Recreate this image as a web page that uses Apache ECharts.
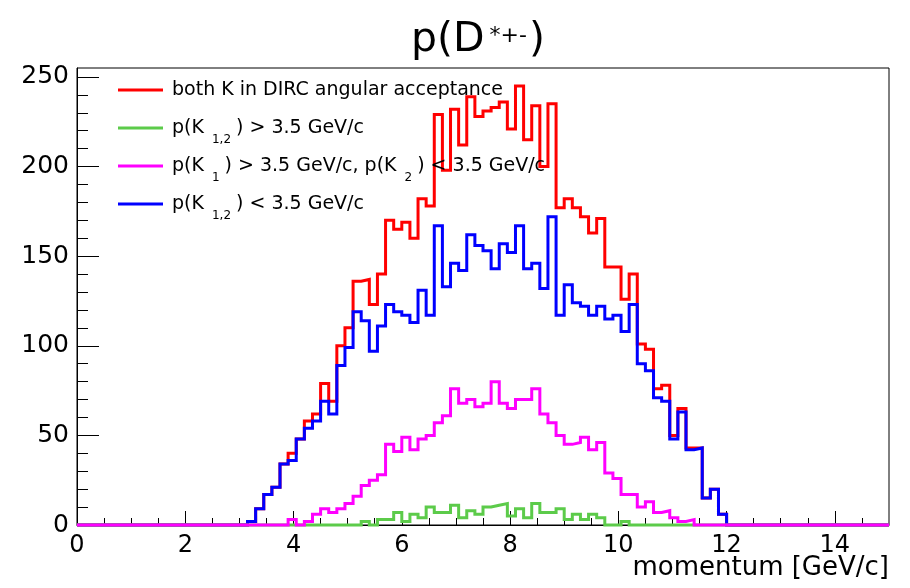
<!DOCTYPE html>
<html>
<head>
<meta charset="utf-8">
<script src="https://cdn.jsdelivr.net/npm/echarts@6/dist/echarts.min.js"></script>
<style>
  html, body { margin: 0; background: #fff; }
  #chart { width: 910px; height: 588px; }
</style>
</head>
<body>
<div id="chart"></div>
<script>
// histogram binning: 100 bins of 0.15 GeV/c from 0 to 15
const binWidth = 0.15
const xTicks = [0, 2, 4, 6, 8, 10, 12, 14]
const yTicks = [0, 50, 100, 150, 200, 250]

// counts per bin
const bothInAcceptance = [
  0, 0, 0, 0, 0, 0, 0, 0, 0, 0,
  0, 0, 0, 0, 0, 0, 0, 0, 0, 0,
  0, 2, 9, 17, 21, 34, 40, 48, 58, 62,
  79, 69, 100, 110, 136, 137, 123, 140, 170, 165,
  169, 160, 182, 178, 229, 198, 232, 212, 239, 228,
  231, 233, 236, 221, 245, 215, 234, 200, 235, 177,
  182, 177, 172, 163, 171, 144, 144, 126, 140, 101,
  98, 76, 78, 50, 65, 43, 43, 15, 20, 6,
  0, 0, 0, 0, 0, 0, 0, 0, 0, 0,
  0, 0, 0, 0, 0, 0, 0, 0, 0, 0
]
const bothAbove = [
  0, 0, 0, 0, 0, 0, 0, 0, 0, 0,
  0, 0, 0, 0, 0, 0, 0, 0, 0, 0,
  0, 0, 0, 0, 0, 0, 0, 0, 0, 0,
  0, 0, 0, 0, 0, 2, 0, 3, 3, 7,
  2, 6, 4, 10, 7, 7, 11, 4, 8, 6,
  10, 11, 12, 5, 9, 4, 12, 7, 7, 9,
  3, 6, 3, 6, 4, 0, 0, 2, 0, 0,
  0, 0, 0, 0, 0, 0, 0, 0, 0, 0,
  0, 0, 0, 0, 0, 0, 0, 0, 0, 0,
  0, 0, 0, 0, 0, 0, 0, 0, 0, 0
]
const oneAboveOneBelow = [
  0, 0, 0, 0, 0, 0, 0, 0, 0, 0,
  0, 0, 0, 0, 0, 0, 0, 0, 0, 0,
  0, 0, 0, 0, 0, 0, 3, 0, 2, 6,
  9, 7, 9, 12, 16, 22, 25, 28, 45, 41,
  49, 42, 48, 50, 57, 61, 76, 68, 70, 66,
  68, 80, 68, 65, 70, 70, 76, 62, 57, 50,
  45, 46, 49, 42, 46, 29, 26, 17, 17, 10,
  13, 7, 8, 4, 2, 3, 0, 0, 0, 0,
  0, 0, 0, 0, 0, 0, 0, 0, 0, 0,
  0, 0, 0, 0, 0, 0, 0, 0, 0, 0
]
const bothBelow = [
  0, 0, 0, 0, 0, 0, 0, 0, 0, 0,
  0, 0, 0, 0, 0, 0, 0, 0, 0, 0,
  0, 2, 9, 17, 21, 34, 36, 48, 54, 58,
  69, 62, 89, 99, 119, 114, 97, 111, 123, 119,
  117, 113, 131, 117, 167, 133, 146, 142, 162, 156,
  153, 143, 157, 152, 167, 143, 146, 132, 172, 117,
  134, 124, 122, 117, 122, 115, 117, 108, 123, 90,
  86, 71, 69, 48, 63, 42, 43, 15, 20, 6,
  0, 0, 0, 0, 0, 0, 0, 0, 0, 0,
  0, 0, 0, 0, 0, 0, 0, 0, 0, 0
]

const font = 'DejaVu Sans'

// bin contents -> step points at the lower bin edges (+ closing point)
function toSteps(vals) {
  const pts = vals.map((v, i) => [i * binWidth, v])
  pts.push([vals.length * binWidth, vals[vals.length - 1]])
  return pts
}

const minorX = []
for (let v = 0.5; v < 15; v += 0.5) if (v % 2 !== 0) minorX.push(v)
const minorY = []
for (let v = 10; v < 250; v += 10) if (v % 50 !== 0) minorY.push(v)

const names = ['both', 'above', 'mixed', 'below']
// {b| } on the first row keeps all rows the same height
const labels = {
  both: '{a|both K in DIRC angular acceptance}{b| }',
  above: '{a|p(K}{b|1,2}{c|) > 3.5 GeV/c}',
  mixed: '{a|p(K}{b|1}{c|) > 3.5 GeV/c, p(K}{b|2}{c|) < 3.5 GeV/c}',
  below: '{a|p(K}{b|1,2}{c|) < 3.5 GeV/c}'
}

function hist(name, vals, color) {
  return {
    name: name,
    type: 'line',
    step: 'end',
    symbol: 'none',
    clip: false,
    data: toSteps(vals),
    itemStyle: { color: color },
    lineStyle: { color: color, width: 3, join: 'miter' }
  }
}

const chart = echarts.init(document.getElementById('chart'))
chart.setOption({
  animation: false,
  backgroundColor: '#fff',
  title: {
    text: '{m|p(D}{s|*+-}{m|)}',
    left: 411,
    top: 17,
    padding: 0,
    textStyle: {
      fontWeight: 'normal',
      rich: {
        m: { fontFamily: font, fontSize: 41, fontWeight: 'normal', lineHeight: 46, color: '#000' },
        s: { fontFamily: font, fontSize: 22, fontWeight: 'normal', lineHeight: 26, color: '#000', padding: [0, 2, 8, 5] }
      }
    }
  },
  legend: {
    orient: 'vertical',
    left: 118,
    top: 72,
    padding: 0,
    icon: 'rect',
    itemWidth: 45,
    itemHeight: 3,
    itemGap: 2,
    data: names,
    formatter: name => labels[name],
    textStyle: {
      rich: {
        a: { fontFamily: font, fontSize: 19, lineHeight: 30, color: '#000', padding: [0, 0, 0, 4] },
        b: { fontFamily: font, fontSize: 12, lineHeight: 2, color: '#000', padding: [24, 5, 0, 8] },
        c: { fontFamily: font, fontSize: 19, lineHeight: 30, color: '#000' }
      }
    }
  },
  graphic: [
    {
      type: 'text',
      right: 21,
      top: 555,
      style: { text: 'momentum [GeV/c]', font: '26px "DejaVu Sans"', fill: '#000' }
    }
  ],
  grid: {
    left: 77, right: 21, top: 68, bottom: 63,
    outerBoundsMode: 'none',
    containLabel: false,
    show: true, borderColor: '#000', borderWidth: 1
  },
  xAxis: [
    {
      type: 'value', min: 0, max: 15, position: 'bottom',
      axisLine: { lineStyle: { color: '#000', width: 1 } },
      axisTick: { inside: true, length: 14, customValues: xTicks, lineStyle: { color: '#000' } },
      axisLabel: { customValues: xTicks, color: '#000', fontFamily: font, fontSize: 24, margin: 9 },
      splitLine: { show: false }
    },
    {
      type: 'value', min: 0, max: 15, position: 'bottom',
      axisLine: { show: false },
      axisTick: { inside: true, length: 7, customValues: minorX, lineStyle: { color: '#000' } },
      axisLabel: { show: false },
      splitLine: { show: false }
    }
  ],
  yAxis: [
    {
      type: 'value', min: 0, max: 255, position: 'left',
      axisLine: { show: true, lineStyle: { color: '#000', width: 1 } },
      axisTick: { show: true, inside: true, length: 22, customValues: yTicks, lineStyle: { color: '#000' } },
      axisLabel: { customValues: yTicks, color: '#000', fontFamily: font, fontSize: 25, margin: 8 },
      splitLine: { show: false }
    },
    {
      type: 'value', min: 0, max: 255, position: 'left',
      axisLine: { show: false },
      axisTick: { show: true, inside: true, length: 11, customValues: minorY, lineStyle: { color: '#000' } },
      axisLabel: { show: false },
      splitLine: { show: false }
    }
  ],
  series: [
    hist('both', bothInAcceptance, '#ff0000'),
    hist('below', bothBelow, '#0000ff'),
    hist('above', bothAbove, '#5ccb4a'),
    hist('mixed', oneAboveOneBelow, '#ff00ff')
  ]
})
</script>
</body>
</html>
